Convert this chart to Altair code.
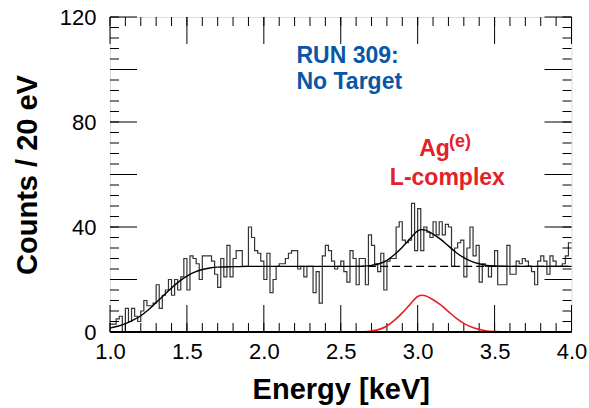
import altair as alt
import pandas as pd

# ---------------- data ----------------
BIN_START = 1.0
BIN_WIDTH = 0.02  # 20 eV bins
counts = [
    3, 3, 5, 6, 0, 9, 4, 9, 6, 4,
    8, 12, 10, 10, 11, 18, 9, 14, 16, 20,
    14, 20, 16, 21, 28, 16, 29, 28, 26, 20,
    29, 29, 29, 27, 22, 17, 28, 21, 33, 21,
    28, 31, 31, 25, 25, 40, 36, 31, 30, 27,
    20, 30, 15, 20, 25, 26, 26, 28, 30, 31,
    31, 24, 25, 21, 25, 25, 15, 23, 11, 29,
    33, 31, 27, 24, 25, 27, 23, 19, 31, 28,
    18, 28, 28, 18, 37, 33, 26, 23, 30, 16,
    27, 28, 28, 40, 42, 35, 34, 35, 49, 31,
    47, 31, 40, 38, 36, 42, 37, 42, 37, 41,
    40, 25, 32, 34, 35, 21, 32, 40, 29, 33,
    19, 26, 25, 21, 25, 31, 18, 18, 18, 33,
    22, 22, 27, 26, 28, 27, 25, 23, 18, 27,
    29, 27, 22, 29, 27, 25, 25, 26, 29, 34,
]

fit_E = [1.00, 1.05, 1.10, 1.15, 1.20, 1.25, 1.30, 1.35, 1.40, 1.45, 1.50, 1.55,
         1.60, 1.65, 1.70, 1.80, 1.90, 2.00, 2.20, 2.40, 2.60, 2.65, 2.70, 2.75,
         2.80, 2.85, 2.90, 2.95, 3.00, 3.03, 3.05, 3.10, 3.15, 3.20, 3.25, 3.30,
         3.35, 3.40, 3.45, 3.50, 3.55, 3.60, 3.80, 4.00]
fit_v = [1.5, 2.2, 3.2, 4.5, 6.2, 8.5, 11.2, 14.0, 16.8, 19.3, 21.3, 22.8,
         23.8, 24.4, 24.7, 24.9, 25.0, 25.0, 25.0, 25.0, 25.0, 25.1, 25.4, 26.0,
         27.3, 29.5, 32.3, 35.5, 38.5, 39.0, 38.8, 37.3, 35.3, 32.8, 30.3, 28.3,
         26.9, 26.0, 25.4, 25.15, 25.05, 25.0, 25.0, 25.0]

sig_E = [2.60, 2.65, 2.70, 2.75, 2.80, 2.85, 2.90, 2.95, 3.00, 3.03, 3.05, 3.10,
         3.15, 3.20, 3.25, 3.30, 3.35, 3.40, 3.45, 3.50, 3.55, 3.60, 3.80, 4.00]
sig_v = [0, 0.1, 0.4, 1.0, 2.3, 4.5, 7.3, 10.5, 13.5, 14.0, 13.8, 12.3,
         10.3, 7.8, 5.3, 3.3, 1.9, 1.0, 0.4, 0.15, 0.05, 0, 0, 0]

bg_E = [2.6, 4.0]
bg_v = [25, 25]

x_labels = [1.0, 1.5, 2.0, 2.5, 3.0, 3.5, 4.0]
y_labels = [0, 40, 80, 120]
x_major = [1.0, 1.5, 2.0, 2.5, 3.0, 3.5, 4.0]
x_minor = [round(1.0 + 0.1 * i, 1) for i in range(31)]
y_major = [0, 20, 40, 60, 80, 100, 120]
y_minor = [4 * i for i in range(31)]

# ---------------- layout ----------------
W, H = 461.5, 315
FONT = "Liberation Sans"
BLUE = "#0A56A6"
RED = "#E4202A"
MAJ, MIN = 27, 9

edges = [round(BIN_START + BIN_WIDTH * i, 2) for i in range(len(counts) + 1)]
hist_df = pd.DataFrame({"E": edges, "c": counts + [counts[-1]]})
fit_df = pd.DataFrame({"E": fit_E, "c": fit_v})
sig_df = pd.DataFrame({"E": sig_E, "c": sig_v})
bg_df = pd.DataFrame({"E": bg_E, "c": bg_v})

xs = alt.Scale(domain=[1.0, 4.0], nice=False, zero=False)
ys = alt.Scale(domain=[0, 120], nice=False, zero=True)

xaxis = alt.Axis(values=x_labels, format=".1f", ticks=False, domain=False, grid=False,
                 labelFontSize=22, labelFont=FONT, labelColor="black", labelPadding=9,
                 title="Energy [keV]", titleFont=FONT, titleFontSize=29, titleFontWeight="bold",
                 titleColor="black", titleBaseline="alphabetic", titleY=66, labelFlush=False)
yaxis = alt.Axis(values=y_labels, ticks=False, domain=False, grid=False,
                 labelFontSize=22, labelFont=FONT, labelColor="black", labelPadding=14,
                 title="Counts / 20 eV", titleFont=FONT, titleFontSize=29, titleFontWeight="bold",
                 titleColor="black", titleAngle=-90, titleBaseline="middle", titleAlign="center",
                 titleX=-83, titleY=H / 2)

hist = alt.Chart(hist_df).mark_line(interpolate="step-after", color="#333333", strokeWidth=1.2).encode(
    x=alt.X("E:Q", scale=xs, axis=xaxis),
    y=alt.Y("c:Q", scale=ys, axis=yaxis),
)
fit = alt.Chart(fit_df).mark_line(interpolate="monotone", color="black", strokeWidth=1.4).encode(
    x=alt.X("E:Q", scale=xs), y=alt.Y("c:Q", scale=ys))
bg = alt.Chart(bg_df).mark_line(color="black", strokeWidth=1.1, strokeDash=[8, 4]).encode(
    x=alt.X("E:Q", scale=xs), y=alt.Y("c:Q", scale=ys))
sig = alt.Chart(sig_df).mark_line(interpolate="monotone", color="#EE1C25", strokeWidth=1.6).encode(
    x=alt.X("E:Q", scale=xs), y=alt.Y("c:Q", scale=ys))

# bottom frame line drawn over the red curve's zero baseline
bottom_frame = alt.Chart(pd.DataFrame({"c": [0]})).mark_rule(color="black", strokeWidth=2.2).encode(
    y=alt.Y("c:Q", scale=ys), x=alt.value(0), x2=alt.value(W))

def xticks(vals, length):
    d = pd.DataFrame({"E": vals})
    b = alt.Chart(d).mark_rule(color="black", strokeWidth=1).encode(
        x=alt.X("E:Q", scale=xs), y=alt.value(H), y2=alt.value(H - length))
    t = alt.Chart(d).mark_rule(color="black", strokeWidth=1).encode(
        x=alt.X("E:Q", scale=xs), y=alt.value(0), y2=alt.value(length))
    return [b, t]

def yticks(vals, length):
    d = pd.DataFrame({"c": vals})
    l = alt.Chart(d).mark_rule(color="black", strokeWidth=1).encode(
        y=alt.Y("c:Q", scale=ys), x=alt.value(0), x2=alt.value(length))
    r = alt.Chart(d).mark_rule(color="black", strokeWidth=1).encode(
        y=alt.Y("c:Q", scale=ys), x=alt.value(W), x2=alt.value(W - length))
    return [l, r]

ticks = xticks(x_minor, MIN) + xticks(x_major, MAJ) + yticks(y_minor, MIN) + yticks(y_major, MAJ)

def label(text, E, c, color, size, align="left"):
    d = pd.DataFrame({"E": [E], "c": [c], "t": [text]})
    return alt.Chart(d).mark_text(font=FONT, fontSize=size, fontWeight="bold", color=color,
                                  align=align, baseline="alphabetic").encode(
        x=alt.X("E:Q", scale=xs), y=alt.Y("c:Q", scale=ys), text="t:N")

texts = [
    label("RUN 309:", 2.212, 102.5, BLUE, 23),
    label("No Target", 2.212, 92.6, BLUE, 23),
    label("Ag", 3.01, 67.0, RED, 23),
    label("(e)", 3.203, 70.5, RED, 18),
    label("L-complex", 3.193, 56.0, RED, 23, align="center"),
]

chart = alt.layer(hist, *ticks, fit, bg, sig, bottom_frame, *texts).properties(
    width=W, height=H,
    autosize=alt.AutoSizeParams(type="none"),
    padding={"left": 110, "top": 17, "right": 17, "bottom": 76},
).configure_view(stroke="black", strokeWidth=2).configure(background="white")

chart.save("out.html", embed_options={"renderer": "svg", "actions": False})
